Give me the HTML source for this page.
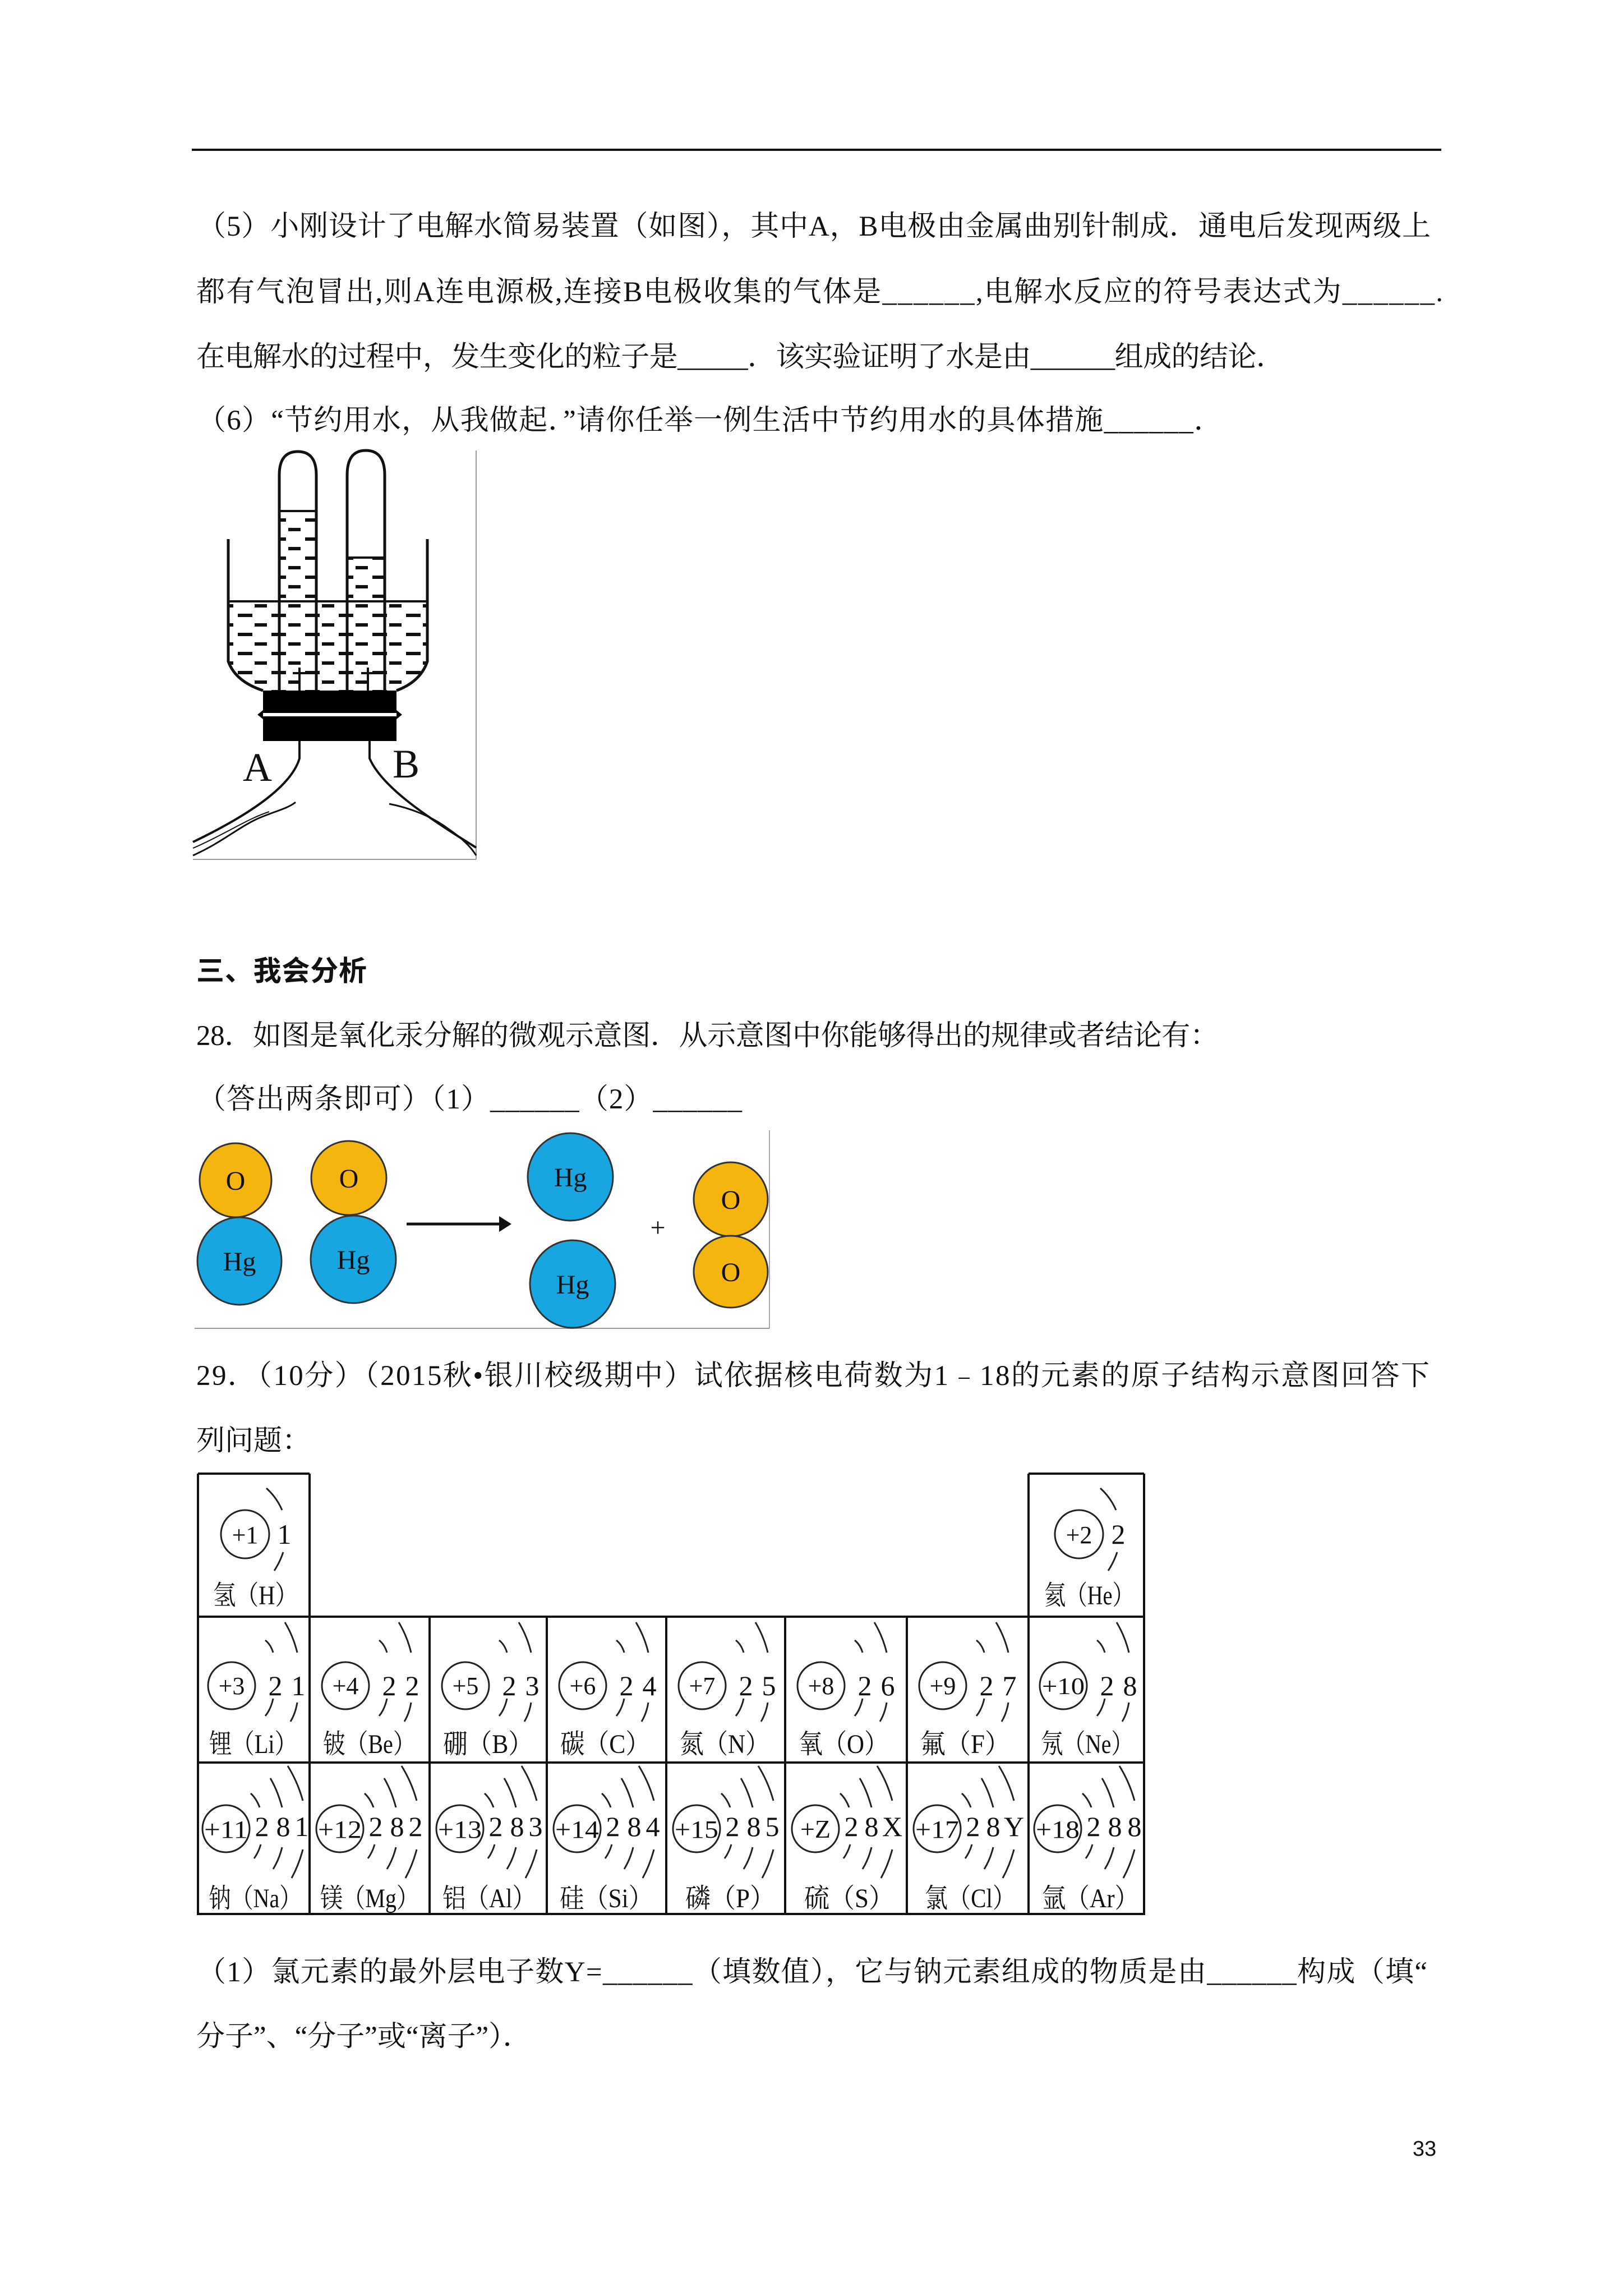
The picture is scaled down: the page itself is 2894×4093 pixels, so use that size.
<!DOCTYPE html>
<html><head><meta charset="utf-8"><style>
html,body{margin:0;padding:0;background:#fff}
svg{display:block}
.t{font-family:"Liberation Serif","Noto Serif CJK SC",serif;font-size:51px;fill:#111}
.c{font-family:"Liberation Serif","Noto Serif CJK SC",serif;fill:#111}
</style></head><body>
<svg width="2894" height="4093" viewBox="0 0 2894 4093" xmlns="http://www.w3.org/2000/svg">
<defs>
<pattern id="wd" width="60" height="34" patternUnits="userSpaceOnUse">
<rect x="4" y="6" width="26" height="6" fill="#111"/><rect x="34" y="23" width="22" height="6" fill="#111"/>
</pattern>
<g id="r1"><circle cx="84" cy="108" r="43" fill="none" stroke="#222" stroke-width="3"/>
<path d="M122,26 Q140,42 150,65 M152,140 Q146,158 136,173" fill="none" stroke="#222" stroke-width="3"/></g>
<g id="r2"><circle cx="60" cy="123" r="42" fill="none" stroke="#222" stroke-width="3"/>
<path d="M120,42 Q130,50 134,64 M134,146 Q130,165 120,177 M155,10 Q170,35 177,64 M177,153 Q174,172 165,187" fill="none" stroke="#222" stroke-width="3"/></g>
<g id="r3"><circle cx="50" cy="118" r="42" fill="none" stroke="#222" stroke-width="3"/>
<path d="M94,55 Q104,64 110,80 M112,146 Q108,160 100,171 M129,28 Q142,50 150,80 M150,151 Q145,172 134,190 M160,6 Q178,35 187,68 M187,155 Q180,182 167,206" fill="none" stroke="#222" stroke-width="3"/></g>
</defs>

<line x1="342" y1="267" x2="2570" y2="267" stroke="#111" stroke-width="4"/>

<text class="t" x="352" y="420" textLength="2199" lengthAdjust="spacing">（5）小刚设计了电解水简易装置（如图），其中A，B电极由金属曲别针制成．通电后发现两级上</text>
<text class="t" x="350" y="537" textLength="2223" lengthAdjust="spacing">都有气泡冒出,则A连电源极,连接B电极收集的气体是______,电解水反应的符号表达式为______.</text>
<text class="t" x="350" y="653" textLength="1941" lengthAdjust="spacing">在电解水的过程中，发生变化的粒子是_____．该实验证明了水是由______组成的结论．</text>
<text class="t" x="352" y="766" textLength="1828" lengthAdjust="spacing">（6）“节约用水，从我做起．”请你任举一例生活中节约用水的具体措施______．</text>

<g>
<line x1="849" y1="803" x2="849" y2="1532" stroke="#999" stroke-width="2"/>
<line x1="344" y1="1532" x2="849" y2="1532" stroke="#999" stroke-width="2"/>
<path d="M407,1072 L762,1072 L762,1179 Q750,1215 707,1231 L469,1231 Q420,1215 407,1179 Z" fill="url(#wd)"/>
<path d="M407,961 L407,1179 Q420,1215 469,1231 M762,961 L762,1179 Q750,1215 707,1231" fill="none" stroke="#111" stroke-width="5"/>
<line x1="407" y1="1072" x2="762" y2="1072" stroke="#111" stroke-width="4"/>
<rect x="500" y="911" width="62" height="160" fill="url(#wd)"/>
<rect x="621" y="994" width="63" height="77" fill="url(#wd)"/>
<path d="M498,1231 L498,847 Q498,805 531,805 Q564,805 564,847 L564,1231" fill="none" stroke="#111" stroke-width="5"/>
<path d="M619,1231 L619,847 Q619,803 652,803 Q686,803 686,847 L686,1231" fill="none" stroke="#111" stroke-width="5"/>
<line x1="498" y1="911" x2="564" y2="911" stroke="#111" stroke-width="4"/>
<line x1="619" y1="994" x2="686" y2="994" stroke="#111" stroke-width="4"/>
<path d="M534,1190 L534,1231 M522,1200 L546,1200 M656,1190 L656,1231 M644,1200 L668,1200" stroke="#111" stroke-width="4"/>
<rect x="469" y="1231" width="238" height="90" fill="#000"/>
<path d="M459,1274 L469,1266 L707,1266 L717,1274 L707,1282 L469,1282 Z" fill="#000"/>
<rect x="469" y="1271" width="238" height="6" fill="#fff"/>
<path d="M534,1321 L534,1352 C520,1400 450,1450 344,1501" fill="none" stroke="#111" stroke-width="4"/>
<path d="M344,1525 C400,1500 430,1470 470,1455 C495,1445 515,1440 527,1430" fill="none" stroke="#111" stroke-width="3"/>
<path d="M344,1512 C400,1488 440,1460 480,1447" fill="none" stroke="#111" stroke-width="2"/>
<path d="M659,1321 L659,1352 C680,1400 750,1450 849,1511" fill="none" stroke="#111" stroke-width="4"/>
<path d="M694,1433 C730,1440 770,1455 800,1478 C825,1495 840,1510 849,1525" fill="none" stroke="#111" stroke-width="3"/>
<text class="c" x="459" y="1392" font-size="72" text-anchor="middle">A</text>
<text class="c" x="724" y="1386" font-size="72" text-anchor="middle">B</text>
</g>

<text x="350" y="1748" font-family="'Liberation Sans','Noto Sans CJK SC',sans-serif" font-weight="bold" font-size="50" fill="#111" textLength="304" lengthAdjust="spacing">三、我会分析</text>
<text class="t" x="350" y="1863" textLength="1823" lengthAdjust="spacing">28．如图是氧化汞分解的微观示意图．从示意图中你能够得出的规律或者结论有：</text>
<text class="t" x="352" y="1976" textLength="971" lengthAdjust="spacing">（答出两条即可）（1）______（2）______</text>

<g>
<line x1="1372" y1="2015" x2="1372" y2="2368" stroke="#aaa" stroke-width="2"/>
<line x1="347" y1="2368" x2="1372" y2="2368" stroke="#999" stroke-width="2"/>
<g stroke="#333" stroke-width="3">
<ellipse cx="420" cy="2104" rx="64" ry="66" fill="#F5B50F"/>
<ellipse cx="427" cy="2248" rx="75" ry="78" fill="#18A6E0"/>
<ellipse cx="622" cy="2100" rx="67" ry="66" fill="#F5B50F"/>
<ellipse cx="630" cy="2245" rx="76" ry="78" fill="#18A6E0"/>
<ellipse cx="1017" cy="2098" rx="76" ry="78" fill="#18A6E0"/>
<ellipse cx="1021" cy="2289" rx="76" ry="78" fill="#18A6E0"/>
<ellipse cx="1303" cy="2138" rx="66" ry="66" fill="#F5B50F"/>
<ellipse cx="1303" cy="2267" rx="66" ry="64" fill="#F5B50F"/>
</g>
<line x1="725" y1="2182" x2="895" y2="2182" stroke="#111" stroke-width="5"/>
<path d="M912,2182 L890,2168 L890,2196 Z" fill="#111"/>
<text class="c" x="1173" y="2204" font-size="48" text-anchor="middle">+</text>
<g class="c" font-size="48" text-anchor="middle">
<text x="420" y="2121">O</text><text x="427" y="2265">Hg</text>
<text x="622" y="2117">O</text><text x="630" y="2262">Hg</text>
<text x="1017" y="2115">Hg</text><text x="1021" y="2306">Hg</text>
<text x="1303" y="2155">O</text><text x="1303" y="2284">O</text>
</g>
</g>

<text class="t" x="350" y="2469" textLength="2199" lengthAdjust="spacing">29．（10分）（2015秋•银川校级期中）试依据核电荷数为1﹣18的元素的原子结构示意图回答下</text>
<text class="t" x="350" y="2585">列问题：</text>

<g stroke="#111" stroke-width="4">
<line x1="353" y1="2627" x2="552" y2="2627"/><line x1="1834" y1="2627" x2="2040" y2="2627"/>
<line x1="353" y1="2882" x2="2040" y2="2882"/><line x1="353" y1="3142" x2="2040" y2="3142"/><line x1="351" y1="3412" x2="2042" y2="3412"/>
<line x1="353" y1="2627" x2="353" y2="3412"/><line x1="552" y1="2627" x2="552" y2="3412"/>
<line x1="766" y1="2882" x2="766" y2="3412"/><line x1="975" y1="2882" x2="975" y2="3412"/>
<line x1="1188" y1="2882" x2="1188" y2="3412"/><line x1="1400" y1="2882" x2="1400" y2="3412"/>
<line x1="1617" y1="2882" x2="1617" y2="3412"/><line x1="1834" y1="2627" x2="1834" y2="3412"/>
<line x1="2040" y1="2627" x2="2040" y2="3412"/>
</g>

<g class="c">
<g transform="translate(353,2627)"><use href="#r1"/><text x="84" y="124" font-size="44" text-anchor="middle">+1</text><text x="154" y="125" font-size="50" text-anchor="middle">1</text><text x="27" y="233" font-size="48" textLength="151" lengthAdjust="spacingAndGlyphs">氢（H）</text></g>
<g transform="translate(1840,2627)"><use href="#r1"/><text x="84" y="124" font-size="44" text-anchor="middle">+2</text><text x="154" y="125" font-size="50" text-anchor="middle">2</text><text x="22" y="233" font-size="48" textLength="160" lengthAdjust="spacingAndGlyphs">氦（He）</text></g>
</g>

<g class="c" font-size="50">
<g transform="translate(353,2882)"><use href="#r2"/><text x="60" y="138" font-size="44" text-anchor="middle">+3</text><text x="138" y="140" text-anchor="middle">2</text><text x="179" y="140" text-anchor="middle">1</text><text x="20" y="243" font-size="48" textLength="157" lengthAdjust="spacingAndGlyphs">锂（Li）</text></g>
<g transform="translate(556,2882)"><use href="#r2"/><text x="60" y="138" font-size="44" text-anchor="middle">+4</text><text x="138" y="140" text-anchor="middle">2</text><text x="179" y="140" text-anchor="middle">2</text><text x="20" y="243" font-size="48" textLength="165" lengthAdjust="spacingAndGlyphs">铍（Be）</text></g>
<g transform="translate(770,2882)"><use href="#r2"/><text x="60" y="138" font-size="44" text-anchor="middle">+5</text><text x="138" y="140" text-anchor="middle">2</text><text x="179" y="140" text-anchor="middle">3</text><text x="20" y="243" font-size="48" textLength="160" lengthAdjust="spacingAndGlyphs">硼（B）</text></g>
<g transform="translate(979,2882)"><use href="#r2"/><text x="60" y="138" font-size="44" text-anchor="middle">+6</text><text x="138" y="140" text-anchor="middle">2</text><text x="179" y="140" text-anchor="middle">4</text><text x="20" y="243" font-size="48" textLength="160" lengthAdjust="spacingAndGlyphs">碳（C）</text></g>
<g transform="translate(1192,2882)"><use href="#r2"/><text x="60" y="138" font-size="44" text-anchor="middle">+7</text><text x="138" y="140" text-anchor="middle">2</text><text x="179" y="140" text-anchor="middle">5</text><text x="20" y="243" font-size="48" textLength="160" lengthAdjust="spacingAndGlyphs">氮（N）</text></g>
<g transform="translate(1404,2882)"><use href="#r2"/><text x="60" y="138" font-size="44" text-anchor="middle">+8</text><text x="138" y="140" text-anchor="middle">2</text><text x="179" y="140" text-anchor="middle">6</text><text x="20" y="243" font-size="48" textLength="160" lengthAdjust="spacingAndGlyphs">氧（O）</text></g>
<g transform="translate(1621,2882)"><use href="#r2"/><text x="60" y="138" font-size="44" text-anchor="middle">+9</text><text x="138" y="140" text-anchor="middle">2</text><text x="179" y="140" text-anchor="middle">7</text><text x="20" y="243" font-size="48" textLength="160" lengthAdjust="spacingAndGlyphs">氟（F）</text></g>
<g transform="translate(1836,2882)"><use href="#r2"/><text x="60" y="138" font-size="42" text-anchor="middle" textLength="76" lengthAdjust="spacingAndGlyphs">+10</text><text x="138" y="140" text-anchor="middle">2</text><text x="179" y="140" text-anchor="middle">8</text><text x="20" y="243" font-size="48" textLength="165" lengthAdjust="spacingAndGlyphs">氖（Ne）</text></g>
</g>

<g class="c" font-size="50">
<g transform="translate(353,3142)"><use href="#r3"/><text x="50" y="134" font-size="44" text-anchor="middle" textLength="78" lengthAdjust="spacingAndGlyphs">+11</text><text x="114" y="131" text-anchor="middle">2</text><text x="152" y="131" text-anchor="middle">8</text><text x="185" y="131" text-anchor="middle">1</text><text x="19" y="258" font-size="48" textLength="166" lengthAdjust="spacingAndGlyphs">钠（Na）</text></g>
<g transform="translate(556,3142)"><use href="#r3"/><text x="50" y="134" font-size="44" text-anchor="middle" textLength="78" lengthAdjust="spacingAndGlyphs">+12</text><text x="114" y="131" text-anchor="middle">2</text><text x="152" y="131" text-anchor="middle">8</text><text x="185" y="131" text-anchor="middle">2</text><text x="15" y="258" font-size="48" textLength="176" lengthAdjust="spacingAndGlyphs">镁（Mg）</text></g>
<g transform="translate(770,3142)"><use href="#r3"/><text x="50" y="134" font-size="44" text-anchor="middle" textLength="78" lengthAdjust="spacingAndGlyphs">+13</text><text x="114" y="131" text-anchor="middle">2</text><text x="152" y="131" text-anchor="middle">8</text><text x="185" y="131" text-anchor="middle">3</text><text x="19" y="258" font-size="48" textLength="166" lengthAdjust="spacingAndGlyphs">铝（Al）</text></g>
<g transform="translate(979,3142)"><use href="#r3"/><text x="50" y="134" font-size="44" text-anchor="middle" textLength="78" lengthAdjust="spacingAndGlyphs">+14</text><text x="114" y="131" text-anchor="middle">2</text><text x="152" y="131" text-anchor="middle">8</text><text x="185" y="131" text-anchor="middle">4</text><text x="19" y="258" font-size="48" textLength="166" lengthAdjust="spacingAndGlyphs">硅（Si）</text></g>
<g transform="translate(1192,3142)"><use href="#r3"/><text x="50" y="134" font-size="44" text-anchor="middle" textLength="78" lengthAdjust="spacingAndGlyphs">+15</text><text x="114" y="131" text-anchor="middle">2</text><text x="152" y="131" text-anchor="middle">8</text><text x="185" y="131" text-anchor="middle">5</text><text x="30" y="258" font-size="48" textLength="160" lengthAdjust="spacingAndGlyphs">磷（P）</text></g>
<g transform="translate(1404,3142)"><use href="#r3"/><text x="50" y="134" font-size="46" text-anchor="middle">+Z</text><text x="114" y="131" text-anchor="middle">2</text><text x="150" y="131" text-anchor="middle">8</text><text x="187" y="131" text-anchor="middle">X</text><text x="30" y="258" font-size="48" textLength="160" lengthAdjust="spacingAndGlyphs">硫（S）</text></g>
<g transform="translate(1621,3142)"><use href="#r3"/><text x="50" y="134" font-size="44" text-anchor="middle" textLength="78" lengthAdjust="spacingAndGlyphs">+17</text><text x="114" y="131" text-anchor="middle">2</text><text x="150" y="131" text-anchor="middle">8</text><text x="187" y="131" text-anchor="middle">Y</text><text x="28" y="258" font-size="48" textLength="162" lengthAdjust="spacingAndGlyphs">氯（Cl）</text></g>
<g transform="translate(1836,3142)"><use href="#r3"/><text x="50" y="134" font-size="44" text-anchor="middle" textLength="78" lengthAdjust="spacingAndGlyphs">+18</text><text x="114" y="131" text-anchor="middle">2</text><text x="152" y="131" text-anchor="middle">8</text><text x="187" y="131" text-anchor="middle">8</text><text x="22" y="258" font-size="48" textLength="172" lengthAdjust="spacingAndGlyphs">氩（Ar）</text></g>
</g>

<text class="t" x="352" y="3532" textLength="2193" lengthAdjust="spacing">（1）氯元素的最外层电子数Y=______（填数值），它与钠元素组成的物质是由______构成（填“</text>
<text class="t" x="350" y="3647">分子”、“分子”或“离子”）．</text>

<text x="2540" y="3843" font-family="'Liberation Sans',sans-serif" font-size="38" fill="#111" text-anchor="middle">33</text>
</svg>
</body></html>
